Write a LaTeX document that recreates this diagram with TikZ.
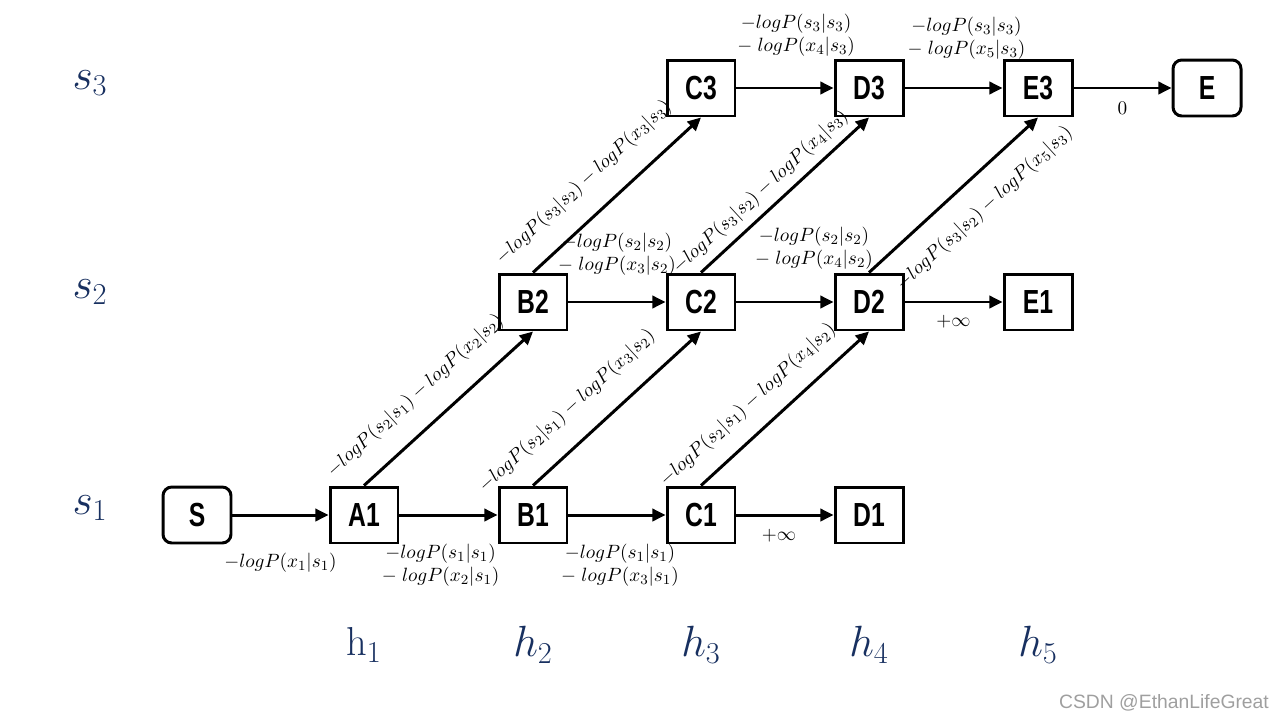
\documentclass[tikz,border=0pt]{standalone}
\usepackage{amsmath}
\usepackage{fontspec}
\usepackage{tikz}
\usetikzlibrary{arrows.meta}
\usetikzlibrary{positioning}

\newfontfamily\boxfont[FakeStretch=0.74]{Liberation Sans}
\newfontfamily\markfont{Liberation Sans}
\definecolor{rowblue}{RGB}{24,48,96}

\begin{document}
\begin{tikzpicture}[x=0.02cm, y=-0.02cm,
		blk/.style={draw, line width=1.7pt, minimum width=1.36cm, minimum height=1.12cm, inner sep=0pt, font=\boxfont\bfseries\fontsize{19}{19}\selectfont},
		endblk/.style={blk, rounded corners=5pt},
		edge/.style={draw, line width=1.7pt, -{Triangle[length=7.5pt,width=7pt]}},
		lbl/.style={font=\fontsize{11}{13}\selectfont, align=center, inner sep=1pt},
		rowlbl/.style={text=rowblue, font=\fontsize{23}{23}\selectfont}]
				\useasboundingbox (0,0) rectangle (1280,720);
				
				% Row and step names
				\node[rowlbl] (r3) at (90,83) {$s_3$};
				\node[rowlbl] (r2) at (90,292) {$s_2$};
				\node[rowlbl] (r1) at (90,508) {$s_1$};
				\node[rowlbl] (h1) at (364,645) {$\mathrm{h}_1$};
				\foreach \c/\x in {2/533,3/701,4/869,5/1038} {
					\node[rowlbl] (h\c) at (\x,645) {$h_{\c}$};
				}
				
			 	% Nodes
			 	\node[endblk] (S) at (197,515) {S};
			 	\node[blk] (A1) at (364,515) {A1};
			 	\node[blk] (B1) at (533,515) {B1};
			 	\node[blk] (C1) at (701,515) {C1};
			 	\node[blk] (D1) at (869,515) {D1};
			 	
			 	\node[blk] (B2) at (533,302) {B2};
			 	\node[blk] (C2) at (701,302) {C2};
			 	\node[blk] (D2) at (869,302) {D2};
			 	\node[blk] (E1) at (1038,302) {E1};
			 	
			 	\node[blk] (C3) at (701,88) {C3};
			 	\node[blk] (D3) at (869,88) {D3};
			 	\node[blk] (E3) at (1038,88) {E3};
			 	\node[endblk] (E) at (1207,88) {E};
			 	
			 	% Stay in s1
			 	\draw[edge] (S) -- node[lbl, yshift=-27pt] (lSA) {$-logP(x_1|s_1)$} (A1);
			 	\draw[edge] (A1) -- node[lbl, xshift=-4.5pt, yshift=-28.5pt] (lAB) {$-logP(s_1|s_1)$\\$-\;logP(x_2|s_1)$} (B1);
			 	\draw[edge] (B1) -- node[lbl, xshift=1.7pt, yshift=-28.5pt] (lBC) {$-logP(s_1|s_1)$\\$-\;logP(x_3|s_1)$} (C1);
			 	\draw[edge] (C1) -- node[lbl, xshift=-3.4pt, yshift=-12pt] (lCD) {$+\infty$} (D1);
			 	
			 	% Stay in s2
			 	\draw[edge] (B2) -- node[lbl, yshift=27pt] (lB2C2) {$-logP(s_2|s_2)$\\$-\;logP(x_3|s_2)$} (C2);
			 	\draw[edge] (C2) -- node[lbl, xshift=16.5pt, yshift=30.7pt] (lC2D2) {$-logP(s_2|s_2)$\\$-\;logP(x_4|s_2)$} (D2);
			 	\draw[edge] (D2) -- node[lbl, yshift=-11.4pt] (lD2E1) {$+\infty$} (E1);
			 	
			 	% Stay in s3
			 	\draw[edge] (C3) -- node[lbl, xshift=6.3pt, yshift=30pt] (lC3D3) {$-logP(s_3|s_3)$\\$-\;logP(x_4|s_3)$} (D3);
			 	\draw[edge] (D3) -- node[lbl, xshift=7.4pt, yshift=28.5pt] (lD3E3) {$-logP(s_3|s_3)$\\$-\;logP(x_5|s_3)$} (E3);
			 	\draw[edge] (E3) -- node[lbl, yshift=-11.4pt] (lE3E) {$0$} (E);
			 	
			 	% Moving up
			 	\draw[edge] (A1.north) -- node[lbl, sloped, pos=0.43, above=0.38cm] (lA1B2) {$-logP(s_2|s_1)-logP(x_2|s_2)$} (B2.south);
			 	\draw[edge] (B1.north) -- node[lbl, sloped, pos=0.33, above=0.38cm] (lB1C2) {$-logP(s_2|s_1)-logP(x_3|s_2)$} (C2.south);
			 	\draw[edge] (C1.north) -- node[lbl, sloped, pos=0.39, above=0.3cm] (lC1D2) {$-logP(s_2|s_1)-logP(x_4|s_2)$} (D2.south);
			 	\draw[edge] (B2.north) -- node[lbl, sloped, pos=0.43, above=0.38cm] (lB2C3) {$-logP(s_3|s_2)-logP(x_3|s_3)$} (C3.south);
			 	\draw[edge] (C2.north) -- node[lbl, sloped, pos=0.43, above=0.12cm] (lC2D3) {$-logP(s_3|s_2)-logP(x_4|s_3)$} (D3.south);
			 	\draw[edge] (D2.north) -- node[lbl, sloped, pos=0.56, below=0.36cm] (lD2E3) {$-logP(s_3|s_2)-logP(x_5|s_3)$} (E3.south);
			 	
			 	% Mark
			 	\node[font=\markfont\fontsize{11}{11}\selectfont, text=gray!75] (mark) at (1164,703) {CSDN @EthanLifeGreat};
			\end{tikzpicture}
\end{document}
